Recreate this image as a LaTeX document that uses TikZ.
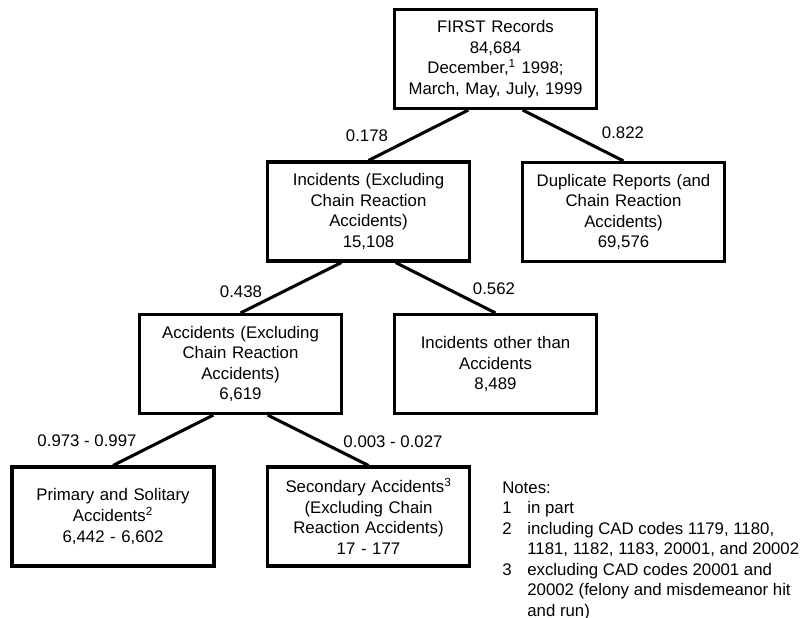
\documentclass[tikz,border=0pt]{standalone}
\usepackage{fontspec}
\setmainfont{Liberation Sans}
\usepackage{tikz}

\begin{document}
\begin{tikzpicture}[x=0.75pt,y=-0.75pt,
		every node/.style={font=\fontsize{12.6}{15.4}\selectfont},
		box/.style={draw=black,line width=2.3pt,minimum width=151.5pt,minimum height=74.25pt,text width=145pt,align=center,inner sep=3pt},
		prob/.style={inner sep=0pt},
		link/.style={draw=black,line width=2.3pt}]
			\useasboundingbox (0,0) rectangle (804,618);
			\node [box] (top) at (495.5,59) {FIRST Records\\84,684\\December,\textsuperscript{1} 1998;\\March, May, July, 1999};
			\node [box] (inc) at (368.5,211.5) {Incidents (Excluding\\Chain Reaction\\Accidents)\\15,108};
			\node [box] (dup) at (623.5,212) {Duplicate Reports (and\\Chain Reaction\\Accidents)\\69,576};
			\node [box] (acc) at (240.5,364) {Accidents (Excluding\\Chain Reaction\\Accidents)\\6,619};
			\node [box] (oth) at (495.5,364) {Incidents other than\\Accidents\\8,489};
			\node [box] (pri) at (113,516.5) {Primary and Solitary\\Accidents\textsuperscript{2}\\6,442 - 6,602};
			\node [box] (sec) at (368.5,516.5) {Secondary Accidents\textsuperscript{3}\\(Excluding Chain\\Reaction Accidents)\\17 - 177};
			\draw [link] (top.242) -- (inc.north);
			\draw [link] (top.298) -- (dup.north);
			\draw [link] (inc.242) -- (acc.north);
			\draw [link] (inc.298) -- (oth.north);
			\draw [link] (acc.242) -- (pri.north);
			\draw [link] (acc.298) -- (sec.north);
			\node [prob] (p-inc) at (367,136) {0.178};
			\node [prob] (p-dup) at (623,133) {0.822};
			\node [prob] (p-acc) at (241,292) {0.438};
			\node [prob] (p-oth) at (494,289) {0.562};
			\node [prob] (p-pri) at (87,441) {0.973 - 0.997};
			\node [prob] (p-sec) at (393,442) {0.003 - 0.027};
			\node [prob,anchor=base west] (notes) at (502,493) {\begin{tabular}[t]{@{}l@{\hspace{11.8pt}}l@{}}
				\multicolumn{2}{@{}l@{}}{Notes:}\\
				1 & in part\\
				2 & including CAD codes 1179, 1180,\\
				  & 1181, 1182, 1183, 20001, and 20002\\
				3 & excluding CAD codes 20001 and\\
				  & 20002 (felony and misdemeanor hit\\
				  & and run)
			\end{tabular}};
		\end{tikzpicture}
\end{document}
